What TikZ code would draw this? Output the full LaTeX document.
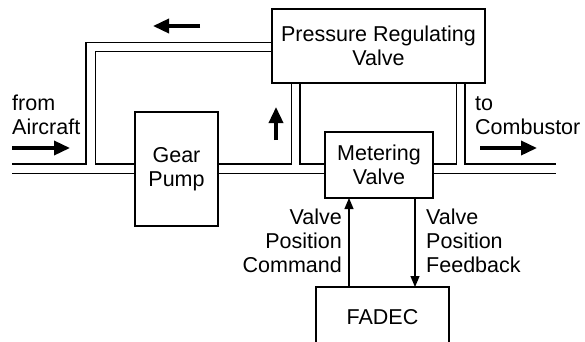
\documentclass[tikz,border=0pt]{standalone}
\usepackage{fontspec}
\setmainfont{Liberation Sans}
\usetikzlibrary{arrows.meta}
\begin{document}
\begin{tikzpicture}[x=1pt,y=-1pt,
  box/.style={draw, line width=1.1pt, outer sep=0pt, inner sep=0pt, align=center, font=\fontsize{21.5}{24}\selectfont},
  pipe/.style={line width=1.1pt, line join=miter},
  fat/.style={line width=3.5pt, -{Triangle[length=16pt,width=14pt]}},
  sig/.style={line width=1.1pt, -{Triangle[length=11pt,width=9pt]}},
  lbl/.style={inner sep=0pt, font=\fontsize{21.5}{24}\selectfont}]
\clip (0,0) rectangle (585,341);
\fill[white] (0,0) rectangle (585,341);
% blocks
\node[box, minimum width=213pt, minimum height=74pt] (prv) at (378.5,46) {Pressure Regulating\\Valve};
\node[box, minimum width=83pt, minimum height=114pt] (gp) at (176.5,169) {Gear\\Pump};
\node[box, minimum width=108pt, minimum height=66pt] (mv) at (379,165) {Metering\\Valve};
\node[box, minimum width=133pt, minimum height=60pt] (fadec) at (382.5,317) {FADEC};
% pipe ends
\coordinate (inA) at (12,164);
\coordinate (inB) at (12,173.3);
\coordinate (outA) at (556,164);
\coordinate (outB) at (556,173.3);
% pipes
\draw[pipe] (inA) -- (86,164) -- (86,42.3) -- (prv.west |- 0,42.3);
\draw[pipe] (gp.west |- 0,164) -- (95.7,164) -- (95.7,51.7) -- (prv.west |- 0,51.7);
\draw[pipe] (gp.east |- 0,164) -- (291.7,164) -- (prv.south -| 291.7,0);
\draw[pipe] (prv.south -| 300,0) -- (300,164) -- (mv.west |- 0,164);
\draw[pipe] (mv.east |- 0,164) -- (456.7,164) -- (prv.south -| 456.7,0);
\draw[pipe] (prv.south -| 465,0) -- (465,164) -- (outA);
\draw[pipe] (inB) -- (gp.west |- 0,173.3);
\draw[pipe] (gp.east |- 0,173.3) -- (mv.west |- 0,173.3);
\draw[pipe] (mv.east |- 0,173.3) -- (outB);
% flow arrows
\coordinate (bpA) at (200,26); \coordinate (bpB) at (153,26);
\draw[fat] (bpA) -- (bpB);
\coordinate (upA) at (276,140); \coordinate (upB) at (276,107);
\draw[fat] (upA) -- (upB);
\coordinate (faA) at (12,148); \coordinate (faB) at (70,148);
\draw[fat] (faA) -- (faB);
\coordinate (tcA) at (480,148); \coordinate (tcB) at (537,148);
\draw[fat] (tcA) -- (tcB);
% signals
\draw[sig] (fadec.north -| 349,0) -- (mv.south -| 349,0);
\draw[sig] (mv.south -| 415,0) -- (fadec.north -| 415,0);
% labels
\node[lbl, align=left, anchor=north west] (from) at (12,95) {from\\Aircraft};
\node[lbl, align=left, anchor=north west] (to) at (475,96) {to\\Combustor};
\node[lbl, align=right, anchor=north east] (cmd) at (342,209) {Valve\\Position\\Command};
\node[lbl, align=left, anchor=north west] (fb) at (426,209) {Valve\\Position\\Feedback};
\end{tikzpicture}
\end{document}
